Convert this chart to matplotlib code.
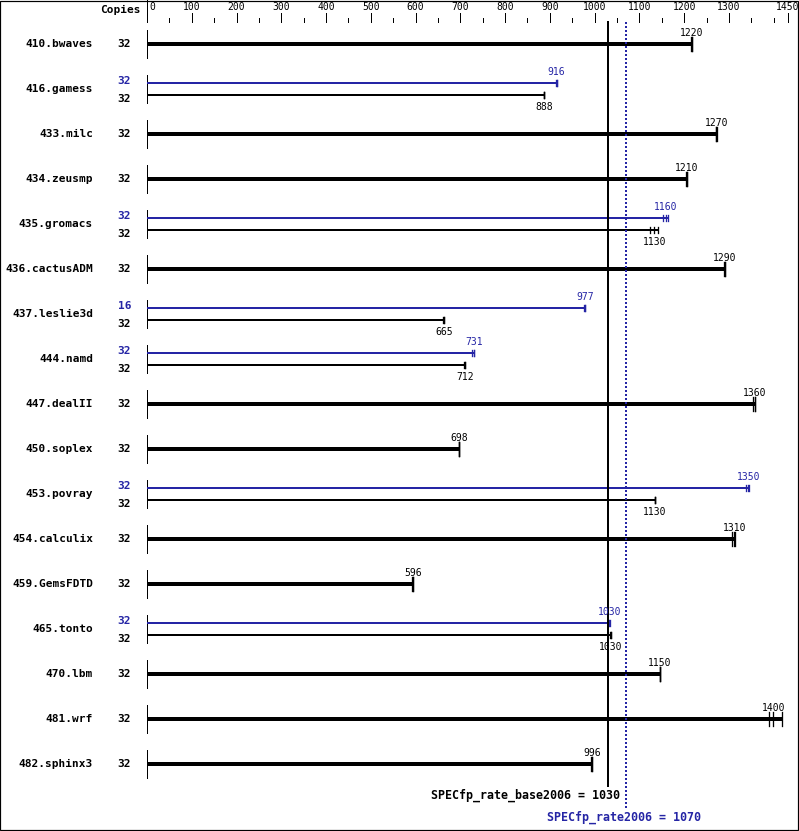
import matplotlib
matplotlib.use("Agg")
import matplotlib.pyplot as plt

# --- data ---
benchmarks = [
    "410.bwaves", "416.gamess", "433.milc", "434.zeusmp", "435.gromacs",
    "436.cactusADM", "437.leslie3d", "444.namd", "447.dealII", "450.soplex",
    "453.povray", "454.calculix", "459.GemsFDTD", "465.tonto", "470.lbm",
    "481.wrf", "482.sphinx3",
]
base_copies = [32] * 17
peak_copies = [None, 32, None, None, 32, None, 16, 32, None, None, 32,
               None, None, 32, None, None, None]

base_labels = ["1220", "888", "1270", "1210", "1130", "1290", "665", "712",
               "1360", "698", "1130", "1310", "596", "1030", "1150", "1400", "996"]
peak_labels = [None, "916", None, None, "1160", None, "977", "731", None,
               None, "1350", None, None, "1030", None, None, None]

# individual run results (3 runs each), median is the reported ratio
base_runs = [
    [1216, 1217, 1218], [886, 887, 888], [1271, 1272, 1273], [1205, 1206, 1207],
    [1123, 1133, 1141], [1290, 1291, 1292], [662, 663, 664], [709, 710, 711],
    [1355, 1358, 1359], [696, 697, 698], [1134, 1135, 1136], [1308, 1312, 1314],
    [593, 594, 595], [1035, 1036, 1037], [1145, 1146, 1147], [1390, 1399, 1419],
    [993, 994, 995],
]
peak_runs = [
    None, [914, 915, 916], None, None, [1152, 1159, 1165], None,
    [977, 978, 979], [727, 730, 731], None, None, [1338, 1343, 1345],
    None, None, [1031, 1033, 1034], None, None, None,
]

base_overall = 1030
peak_overall = 1070

major_ticks = list(range(0, 1400, 100))
minor_ticks = list(range(50, 1450, 50))
last_tick_label = "1450"
last_tick_pos = 1432

BLUE = "#2525a5"
MONO = ["DejaVu Sans Mono"]

# --- layout (pixel based) ---
W, H = 799, 831
scale = 0.4476          # px per unit
x0 = 147                # px of zero
fig = plt.figure(figsize=(W / 100, H / 100), dpi=100)
ax = fig.add_axes([0, 0, 1, 1])
ax.set_xlim(-x0 / scale, (W - x0) / scale)
ax.set_ylim(H, 0)
ax.axis("off")


def px(n):
    return n * 72 / 100  # pixels -> points


def u(p):
    return p / scale     # pixels -> data units


# frame
ax.add_patch(plt.Rectangle((-x0 / scale, 0.5), u(W - 1), H - 1.5, fill=False,
                           lw=px(1.2), ec="black"))

# top axis
ax.plot([0, 0], [0, 22], color="black", lw=px(1))
for t in major_ticks:
    ax.plot([t, t], [13, 22], color="black", lw=px(1))
    ax.text(t if t else u(2), 7, str(t), ha="center" if t else "left",
            va="center", fontsize=7, family=MONO)
for t in minor_ticks:
    if t % 100:
        ax.plot([t, t], [18, 22], color="black", lw=px(1))
ax.plot([1400, 1400], [18, 22], color="black", lw=px(1))
ax.plot([last_tick_pos, last_tick_pos], [13, 22], color="black", lw=px(1))
ax.text(last_tick_pos, 7, last_tick_label, ha="center", va="center",
        fontsize=7, family=MONO)
ax.text(u(-6), 10, "Copies", ha="right", va="center", fontsize=8,
        fontweight="bold", family=MONO)


def draw_bar(y, runs, label, color, lw, cap, label_dy):
    ax.plot([0, max(runs)], [y, y], color=color, lw=px(lw),
            solid_capstyle="butt")
    for r in runs:
        ax.plot([r, r], [y - cap, y + cap], color=color, lw=px(1.3))
    med = sorted(runs)[len(runs) // 2]
    ax.text(med, y + label_dy, label, ha="center", va="center",
            fontsize=7, family=MONO, color=color)


for i, name in enumerate(benchmarks):
    yc = 44 + 45 * i
    ax.plot([0, 0], [yc - 14, yc + 14], color="black", lw=px(1))
    ax.text(u(93 - x0), yc, name, ha="right", va="center", fontsize=8,
            fontweight="bold", family=MONO)
    if peak_runs[i] is None:
        ax.text(u(131 - x0), yc, str(base_copies[i]), ha="right", va="center",
                fontsize=8, fontweight="bold", family=MONO)
        draw_bar(yc, base_runs[i], base_labels[i], "black", 4, 7, -11)
    else:
        ax.text(u(131 - x0), yc - 8, str(peak_copies[i]), ha="right",
                va="center", fontsize=8, fontweight="bold", family=MONO,
                color=BLUE)
        ax.text(u(131 - x0), yc + 10, str(base_copies[i]), ha="right",
                va="center", fontsize=8, fontweight="bold", family=MONO)
        draw_bar(yc - 6, peak_runs[i], peak_labels[i], BLUE, 2, 3, -11)
        draw_bar(yc + 6, base_runs[i], base_labels[i], "black", 2, 3, 12)

# overall reference lines
ax.plot([base_overall, base_overall], [22, 786], color="black", lw=px(2))
ax.plot([peak_overall, peak_overall], [22, 808], color=BLUE, lw=px(2),
        linestyle=(0, (1, 1)))
ax.text(base_overall + u(12), 795, f"SPECfp_rate_base2006 = {base_overall}",
        ha="right", va="center", fontsize=8.4, fontweight="bold", family=MONO)
ax.text(peak_overall - u(79), 817, f"SPECfp_rate2006 = {peak_overall}",
        ha="left", va="center", fontsize=8.4, fontweight="bold", family=MONO,
        color=BLUE)

fig.savefig("out.png", dpi=100, facecolor="white")
